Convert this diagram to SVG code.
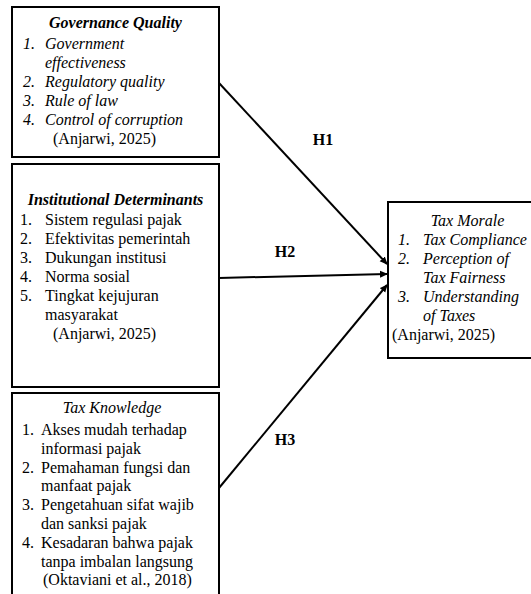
<svg xmlns="http://www.w3.org/2000/svg" width="531" height="594" viewBox="0 0 531 594" font-family="Liberation Serif, DejaVu Serif, serif" font-size="16">
<style>
text{fill:#000}
.i{font-style:italic}
.b{font-weight:bold}
.box{fill:#fff;stroke:#000;stroke-width:2}
.c line{stroke:#000;stroke-width:2}
.m{text-anchor:middle}
</style>
<defs>
<marker id="ah" markerWidth="8" markerHeight="8" refX="7" refY="4" orient="auto" markerUnits="userSpaceOnUse">
<path d="M0,0.5 L8,4 L0,7.5 Z" fill="#000"/>
</marker>
</defs>
<g id="governance">
<rect class="box" x="12" y="7" width="207" height="150"/>
<text class="i b m" x="115.5" y="28">Governance Quality</text>
<text class="i" x="23" y="49">1.</text><text class="i" x="45" y="49">Government</text>
<text class="i" x="45" y="68">effectiveness</text>
<text class="i" x="23" y="87">2.</text><text class="i" x="45" y="87">Regulatory quality</text>
<text class="i" x="23" y="106">3.</text><text class="i" x="45" y="106">Rule of law</text>
<text class="i" x="23" y="125">4.</text><text class="i" x="45" y="125">Control of corruption</text>
<text x="53" y="144">(Anjarwi, 2025)</text>
</g>
<g id="institutional">
<rect class="box" x="12" y="164" width="207" height="223"/>
<text class="i b m" x="115.5" y="205">Institutional Determinants</text>
<text x="20" y="225">1.</text><text x="45" y="225">Sistem regulasi pajak</text>
<text x="20" y="244">2.</text><text x="45" y="244">Efektivitas pemerintah</text>
<text x="20" y="263">3.</text><text x="45" y="263">Dukungan institusi</text>
<text x="20" y="282">4.</text><text x="45" y="282">Norma sosial</text>
<text x="20" y="301">5.</text><text x="45" y="301">Tingkat kejujuran</text>
<text x="45" y="320">masyarakat</text>
<text x="53" y="339">(Anjarwi, 2025)</text>
</g>
<g id="knowledge">
<rect class="box" x="12" y="393" width="207" height="210"/>
<text class="i m" x="112" y="413">Tax Knowledge</text>
<text x="22" y="435">1.</text><text x="41" y="435">Akses mudah terhadap</text>
<text x="41" y="453.8">informasi pajak</text>
<text x="22" y="472.6">2.</text><text x="41" y="472.6">Pemahaman fungsi dan</text>
<text x="41" y="491.4">manfaat pajak</text>
<text x="22" y="510.2">3.</text><text x="41" y="510.2">Pengetahuan sifat wajib</text>
<text x="41" y="529">dan sanksi pajak</text>
<text x="22" y="547.8">4.</text><text x="41" y="547.8">Kesadaran bahwa pajak</text>
<text x="41" y="566.6">tanpa imbalan langsung</text>
<text x="43" y="585.4">(Oktaviani et al., 2018)</text>
</g>
<g id="taxmorale">
<rect class="box" x="388" y="202" width="150" height="156"/>
<text class="i m" x="467.5" y="226">Tax Morale</text>
<text class="i" x="398" y="245">1.</text><text class="i" x="423" y="245">Tax Compliance</text>
<text class="i" x="398" y="264">2.</text><text class="i" x="423" y="264">Perception of</text>
<text class="i" x="423" y="283">Tax Fairness</text>
<text class="i" x="398" y="302">3.</text><text class="i" x="423" y="302">Understanding</text>
<text class="i" x="423" y="321">of Taxes</text>
<text x="392" y="340">(Anjarwi, 2025)</text>
</g>
<g id="connectors" class="c">
<line x1="219" y1="83" x2="387" y2="264" marker-end="url(#ah)"/>
<line x1="219" y1="278" x2="387" y2="274" marker-end="url(#ah)"/>
<line x1="219" y1="488" x2="387" y2="285" marker-end="url(#ah)"/>
<text class="b m" x="323" y="145">H1</text>
<text class="b m" x="285" y="257">H2</text>
<text class="b m" x="285" y="445">H3</text>
</g>
</svg>
